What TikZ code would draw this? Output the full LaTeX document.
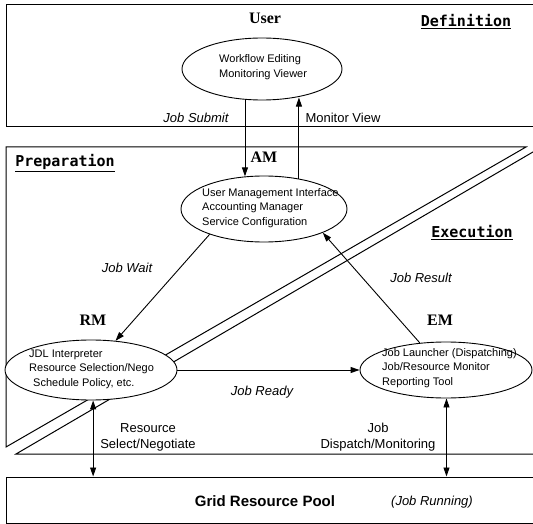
\documentclass[tikz,border=0pt]{standalone}
\usepackage{fontspec}
\setmainfont{Liberation Sans}
\newfontfamily\serifbf{Liberation Serif}
\newfontfamily\monofam{DejaVu Sans Mono}
\usetikzlibrary{shapes.geometric,arrows.meta}
\begin{document}
\begin{tikzpicture}[x=1pt,y=-1pt,
  frame/.style={line width=1pt},
  ell/.style={ellipse,draw,line width=0.9pt,fill=white,inner sep=0pt},
  etext/.style={font=\fontsize{11}{14.5}\selectfont,align=left,inner sep=0pt,anchor=west},
  lab/.style={font=\fontsize{13}{16}\selectfont,inner sep=0pt,align=center},
  ilab/.style={font=\fontsize{13}{16}\selectfont\itshape,inner sep=0pt},
  arr/.style={line width=0.9pt,-{Triangle[length=9pt,width=6pt]}},
  dbl/.style={line width=0.9pt,{Triangle[length=9pt,width=6pt]}-{Triangle[length=9pt,width=6pt]}},
  tag/.style={font=\serifbf\bfseries\fontsize{16}{18}\selectfont,inner sep=0pt},
  phase/.style={font=\monofam\bfseries\fontsize{15}{18}\selectfont,inner sep=0pt}]
\clip (0,0) rectangle (533,524);
% regions
\draw[frame] (6,5) rectangle (545,127);
\draw[frame] (526,147) -- (6,147) -- (6,447) -- cycle;
\draw[frame] (536,150.2) -- (16,454) -- (545,454);
\node[draw,frame,minimum width=545pt,minimum height=46pt,inner sep=0pt] (pool) at (278.5,500) {};
% ellipses
\node[ell,minimum width=160pt,minimum height=62pt] (user) at (262,69) {};
\node[ell,minimum width=166pt,minimum height=66pt] (am) at (264,209) {};
\node[ell,minimum width=172pt,minimum height=60pt] (rm) at (91,370) {};
\node[ell,minimum width=172pt,minimum height=56pt] (em) at (446,370) {};
% ellipse texts
\node[etext] (usert) at (219,67) {Workflow Editing\\Monitoring Viewer};
\node[etext] (amt) at (202,208) {User Management Interface\\Accounting Manager\\Service Configuration};
\node[etext] (rmt) at (29,369) {JDL Interpreter\\Resource Selection/Nego\\\hspace*{4pt}Schedule Policy, etc.};
\node[etext] (emt) at (382,368) {Job Launcher (Dispatching)\\Job/Resource Monitor\\Reporting Tool};
% connectors
\draw[arr] (user.-119) -- (user.-119 |- am.119);
\draw[arr] (am.41) -- (am.41 |- user.-40);
\draw[arr] (am.-155) -- (rm.50);
\draw[arr] (em.134) -- (am.-22);
\draw[arr] (rm.east) -- (em.west);
\draw[dbl] (rm.-86) -- (rm.-86 |- pool.north);
\draw[dbl] (em.-89) -- (em.-89 |- pool.north);
% labels
\node[tag] (tuser) at (265,18) {User};
\node[tag] (tam) at (264,157) {AM};
\node[tag] (trm) at (93,320) {RM};
\node[tag] (tem) at (440,320) {EM};
\node[phase] (pdef) at (466,22) {\underline{Definition}};
\node[phase] (pprep) at (65,163) {\underline{Preparation}};
\node[phase] (pexec) at (472,233) {\underline{Execution}};
\node[ilab] (lsub) at (196,118) {Job Submit};
\node[lab] (lmon) at (343,118) {Monitor View};
\node[ilab] (lwait) at (127,268) {Job Wait};
\node[ilab] (lres) at (421,278) {Job Result};
\node[ilab] (lready) at (262,392) {Job Ready};
\node[lab] (lsel) at (148,437) {Resource\\Select/Negotiate};
\node[lab] (ldis) at (378,437) {Job\\Dispatch/Monitoring};
\node[font=\bfseries\fontsize{15}{18}\selectfont,inner sep=0pt] (lpool) at (265,501) {Grid Resource Pool};
\node[ilab] (lrun) at (432,502) {(Job Running)};
\end{tikzpicture}
\end{document}
